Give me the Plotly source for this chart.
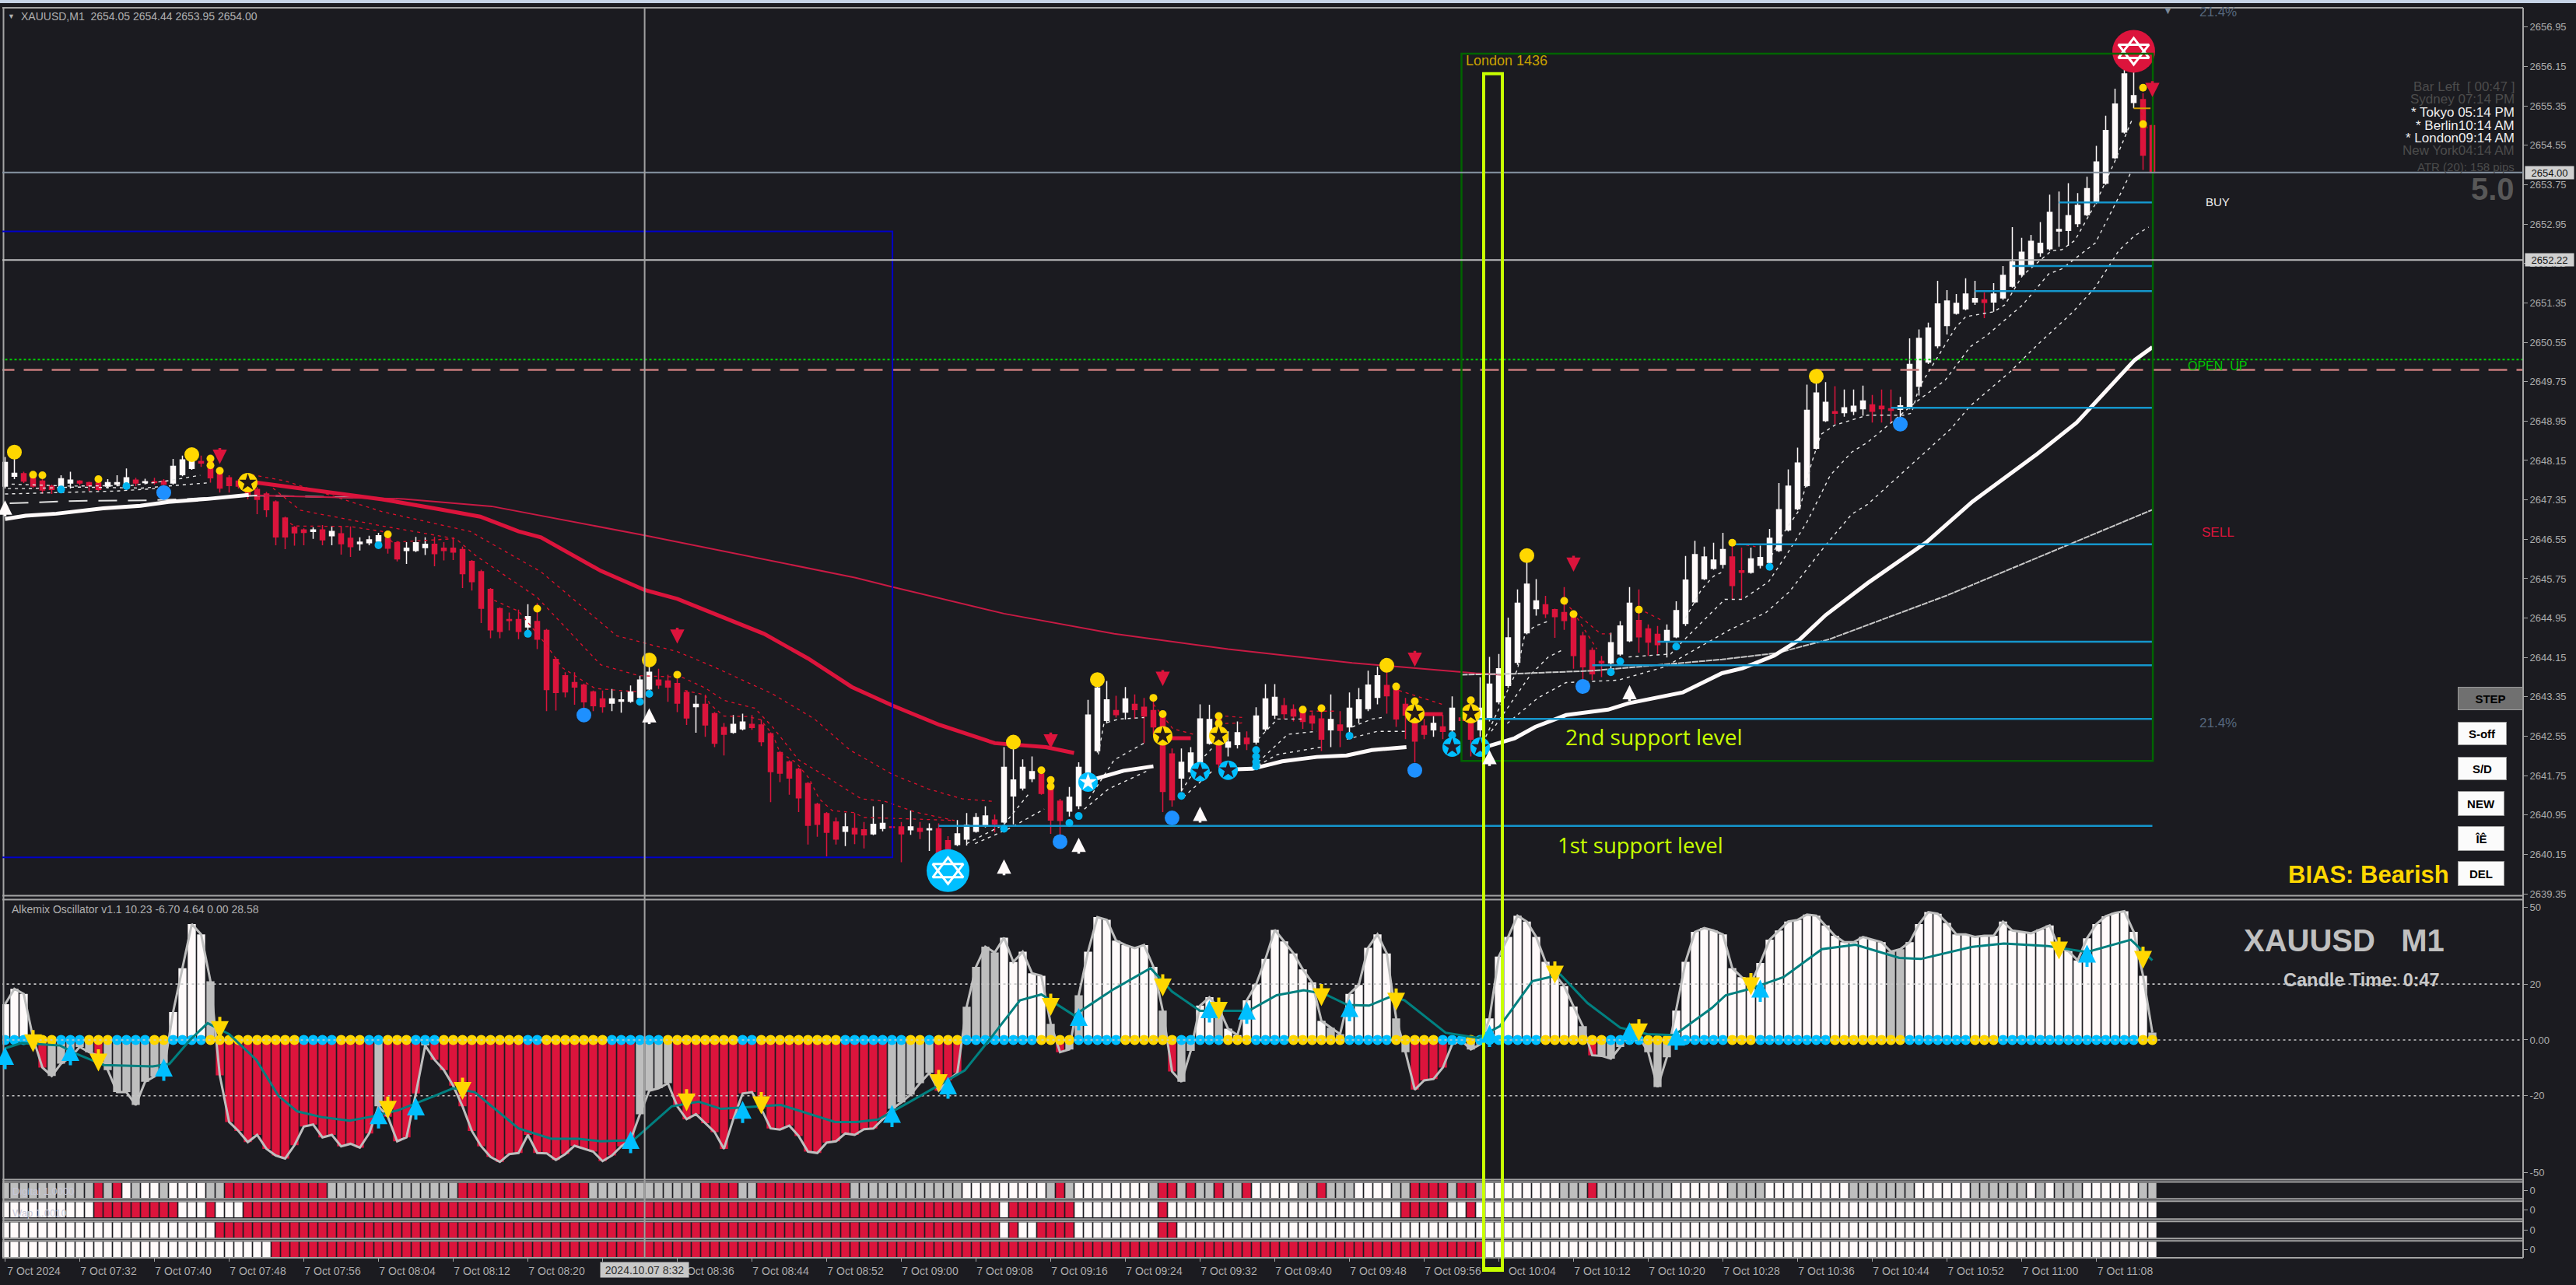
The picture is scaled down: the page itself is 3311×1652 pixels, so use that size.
import plotly.graph_objects as go

W, H = 3311, 1652
BG = "#1b1b20"
RED = "#dc143c"
WHITE = "#fffafa"
GREY = "#bebebe"
GOLD = "#ffd700"
CYAN = "#00bfff"
DODGER = "#1e90ff"
LIME = "#c8ff00"
LEVEL = "#1596cc"
TEAL = "#008080"
FONT = "Liberation Sans"

# ---------- price candles, one value per minute (7 Oct 07:24 .. 11:14) ----------
opens = [
 2647.63,2647.83,2647.88,2647.85,2647.73,2647.63,2647.55,2647.69,2647.73,2647.70,
 2647.69,2647.63,2647.67,2647.63,2647.75,2647.70,2647.72,2647.73,2647.69,2647.86,
 2647.99,2648.13,2648.18,2647.97,2647.80,2647.73,2647.70,2647.56,2647.47,2647.31,
 2646.98,2646.79,2646.74,2646.71,2646.74,2646.62,2646.66,2646.57,2646.46,2646.48,
 2646.51,2646.57,2646.48,2646.32,2646.32,2646.38,2646.45,2646.37,2646.37,2646.34,
 2646.10,2645.89,2645.53,2645.14,2644.92,2644.92,2644.77,2644.88,2644.70,2644.11,
 2643.78,2643.64,2643.59,2643.45,2643.31,2643.22,2643.26,2643.26,2643.34,2643.51,
 2643.69,2643.67,2643.62,2643.44,2643.15,2643.20,2643.01,2642.73,2642.63,2642.70,
 2642.79,2642.78,2642.60,2642.22,2642.03,2641.88,2641.59,2641.17,2640.98,2640.81,
 2640.62,2640.68,2640.65,2640.57,2640.68,2640.71,2640.71,2640.65,2640.68,2640.65,
 2640.67,2640.43,2640.35,2640.46,2640.62,2640.74,2640.85,2640.81,2641.34,2641.50,
 2641.69,2641.78,2641.52,2641.23,2641.03,2641.14,2641.78,2642.26,2642.87,2643.07,
 2643.04,2643.20,2643.14,2643.07,2642.93,2642.19,2641.70,2641.83,2642.02,2642.41,
 2642.93,2642.33,2642.38,2642.51,2642.43,2642.70,2642.98,2643.17,2643.09,2643.04,
 2642.96,2642.90,2642.68,2642.78,2642.74,2642.92,2643.11,2643.34,2643.58,2643.48,
 2643.20,2643.17,2642.76,2642.68,2642.74,2642.68,2642.92,2642.85,2642.68,2642.90,
 2643.25,2643.58,2644.05,2644.65,2645.14,2645.22,2645.12,2645.06,2644.98,2644.59,
 2644.29,2644.07,2644.04,2644.22,2644.49,2644.90,2644.73,2644.62,2644.49,2644.57,
 2644.84,2645.28,2645.75,2645.96,2646.04,2646.19,2645.91,2645.88,2646.02,2646.08,
 2646.32,2646.74,2647.17,2647.64,2648.40,2648.96,2649.14,2649.12,2649.15,2649.20,
 2649.28,2649.25,2649.20,2649.19,2649.22,2649.66,2650.15,2650.48,2650.89,2651.14,
 2651.23,2651.37,2651.41,2651.37,2651.45,2651.69,2651.93,2652.13,2652.37,2652.45,
 2652.81,2652.82,2652.96,2653.14,2653.39,2653.78,2654.30,2654.82,2655.42,2655.48,
 2654.95]
highs = [
 2648.22,2648.18,2647.92,2647.88,2647.77,2647.66,2647.85,2647.92,2647.75,2647.72,
 2647.72,2647.77,2647.85,2647.99,2647.80,2647.78,2647.80,2647.77,2648.18,2648.25,
 2648.27,2648.25,2648.21,2648.02,2647.85,2647.77,2647.77,2647.61,2647.51,2647.34,
 2647.01,2646.82,2646.77,2646.79,2646.84,2646.82,2646.82,2646.81,2646.59,2646.62,
 2646.68,2646.65,2646.51,2646.49,2646.60,2646.59,2646.60,2646.49,2646.59,2646.40,
 2646.13,2645.93,2645.56,2645.17,2645.06,2645.12,2645.23,2645.25,2644.73,2644.15,
 2643.85,2643.85,2643.62,2643.48,2643.48,2643.51,2643.45,2643.58,2643.78,2643.97,
 2643.92,2643.80,2643.72,2643.47,2643.38,2643.38,2643.04,2642.82,2642.98,2643.01,
 2642.98,2642.89,2642.63,2642.25,2642.06,2641.91,2641.62,2641.20,2641.01,2640.90,
 2640.99,2640.99,2640.81,2641.13,2641.17,2640.73,2640.81,2641.04,2640.81,2640.78,
 2640.78,2640.52,2640.85,2640.99,2640.99,2641.13,2640.96,2642.33,2642.38,2642.08,
 2642.14,2641.86,2641.66,2641.28,2641.52,2642.02,2643.29,2643.64,2643.67,2643.37,
 2643.55,2643.40,2643.33,2643.33,2643.00,2642.30,2642.30,2642.33,2643.20,2643.19,
 2643.01,2642.65,2642.85,2642.65,2643.14,2643.61,2643.61,2643.33,2643.20,2643.11,
 2643.04,2643.09,2643.40,2643.06,2643.44,2643.53,2643.88,2643.96,2643.92,2643.56,
 2643.33,2643.26,2642.90,2642.96,2642.98,2643.36,2642.93,2643.09,2643.75,2644.16,
 2644.22,2644.96,2645.53,2646.08,2645.74,2645.40,2645.14,2645.58,2645.06,2644.67,
 2644.35,2644.18,2644.65,2644.89,2645.58,2645.53,2644.82,2644.79,2644.82,2645.29,
 2646.21,2646.52,2646.40,2646.48,2646.68,2646.48,2646.38,2646.38,2646.42,2646.76,
 2647.69,2647.97,2648.41,2649.69,2649.78,2649.74,2649.66,2649.59,2649.59,2649.67,
 2649.48,2649.59,2649.59,2649.44,2650.63,2650.81,2650.95,2651.80,2651.61,2651.53,
 2651.85,2651.80,2651.56,2651.75,2652.10,2652.89,2652.67,2652.73,2652.99,2653.55,
 2653.61,2653.78,2653.58,2653.91,2654.54,2655.15,2655.70,2656.08,2656.40,2655.61,
 2654.98]
lows = [
 2647.58,2647.77,2647.69,2647.59,2647.48,2647.47,2647.53,2647.58,2647.64,2647.53,
 2647.53,2647.58,2647.63,2647.58,2647.63,2647.67,2647.66,2647.63,2647.66,2647.83,
 2647.96,2648.02,2647.70,2647.50,2647.50,2647.58,2647.36,2647.06,2647.00,2646.43,
 2646.35,2646.42,2646.43,2646.56,2646.43,2646.43,2646.24,2646.19,2646.32,2646.43,
 2646.43,2646.26,2646.10,2646.05,2646.29,2646.23,2646.00,2646.12,2646.13,2645.56,
 2645.51,2644.85,2644.54,2644.54,2644.70,2644.52,2644.57,2644.32,2643.06,2643.07,
 2643.34,2643.19,2643.07,2643.06,2643.03,2643.06,2643.03,2643.23,2643.19,2643.48,
 2643.51,2643.25,2643.04,2642.78,2642.62,2642.54,2642.33,2642.16,2642.60,2642.67,
 2642.68,2642.35,2641.21,2641.62,2641.36,2641.01,2640.35,2640.51,2640.11,2640.35,
 2640.32,2640.36,2640.27,2640.54,2640.62,2640.68,2639.99,2640.55,2640.46,2640.22,
 2640.18,2640.18,2640.32,2640.33,2640.59,2640.70,2640.60,2640.78,2640.76,2641.45,
 2641.62,2641.36,2640.57,2640.54,2640.92,2641.07,2641.75,2642.22,2642.81,2642.93,
 2642.89,2642.90,2642.41,2642.57,2641.01,2641.12,2641.43,2641.80,2641.99,2642.38,
 2641.91,2642.14,2642.30,2642.27,2642.38,2642.65,2642.90,2642.90,2642.85,2642.70,
 2642.67,2642.25,2642.33,2642.33,2642.62,2642.81,2643.06,2643.20,2643.01,2642.74,
 2642.49,2642.02,2642.49,2642.54,2642.49,2642.51,2642.85,2642.14,2642.54,2642.85,
 2643.20,2643.53,2644.00,2644.62,2645.00,2644.95,2644.55,2644.71,2643.92,2643.69,
 2643.69,2643.75,2643.91,2644.18,2644.46,2644.25,2644.18,2644.22,2644.15,2644.54,
 2644.79,2645.25,2645.72,2645.93,2645.96,2645.34,2645.33,2645.85,2645.96,2646.05,
 2646.29,2646.71,2647.14,2647.61,2648.37,2648.93,2648.89,2649.04,2649.07,2649.06,
 2648.92,2648.92,2648.92,2648.79,2649.19,2649.47,2650.11,2650.43,2650.71,2651.11,
 2651.20,2651.31,2651.04,2651.17,2651.41,2651.66,2651.89,2652.10,2652.29,2652.41,
 2652.49,2652.51,2652.89,2653.11,2653.36,2653.75,2654.27,2654.79,2655.30,2654.05,
 2654.00]
closes = [
 2648.11,2647.89,2647.73,2647.63,2647.55,2647.56,2647.78,2647.75,2647.69,2647.64,
 2647.56,2647.70,2647.70,2647.80,2647.69,2647.72,2647.70,2647.67,2648.03,2648.16,
 2648.21,2648.10,2647.80,2647.59,2647.64,2647.63,2647.45,2647.36,2647.15,2646.60,
 2646.60,2646.68,2646.69,2646.74,2646.54,2646.71,2646.46,2646.40,2646.49,2646.54,
 2646.62,2646.37,2646.15,2646.37,2646.48,2646.45,2646.26,2646.32,2646.29,2645.85,
 2645.69,2645.15,2644.71,2644.68,2644.90,2644.68,2644.98,2644.52,2643.50,2643.44,
 2643.45,2643.55,2643.25,2643.17,2643.15,2643.31,2643.29,2643.45,2643.69,2643.85,
 2643.59,2643.55,2643.22,2642.92,2643.20,2642.78,2642.41,2642.59,2642.79,2642.84,
 2642.73,2642.44,2641.83,2641.80,2641.70,2641.30,2640.74,2640.76,2640.60,2640.46,
 2640.71,2640.57,2640.55,2640.76,2640.78,2640.70,2640.57,2640.71,2640.62,2640.67,
 2640.18,2640.26,2640.57,2640.74,2640.90,2640.93,2640.77,2641.92,2641.66,2641.92,
 2641.83,2641.39,2640.85,2640.84,2641.31,2641.92,2642.98,2643.53,2643.29,2642.99,
 2643.31,2643.09,2642.96,2642.74,2641.43,2641.26,2642.02,2642.21,2642.90,2642.89,
 2641.99,2642.43,2642.62,2642.40,2642.96,2643.31,2643.34,2643.01,2642.96,2642.85,
 2642.82,2642.49,2642.89,2642.67,2643.12,2643.29,2643.59,2643.78,2643.37,2642.90,
 2642.98,2642.45,2642.59,2642.81,2642.65,2643.12,2642.87,2642.49,2643.12,2643.61,
 2643.92,2644.55,2645.25,2645.64,2645.30,2645.04,2644.98,2644.90,2644.19,2643.96,
 2643.82,2644.04,2644.45,2644.79,2645.25,2644.57,2644.46,2644.41,2644.70,2645.10,
 2645.72,2646.24,2646.19,2646.13,2646.34,2645.61,2645.88,2646.15,2646.18,2646.57,
 2647.15,2647.63,2648.10,2649.17,2649.52,2649.33,2649.11,2649.22,2649.25,2649.36,
 2649.15,2649.20,2649.17,2649.26,2650.10,2650.63,2650.84,2651.33,2651.39,2651.34,
 2651.53,2651.44,2651.36,2651.53,2651.91,2652.18,2652.38,2652.60,2652.56,2653.19,
 2652.84,2653.12,2653.33,2653.67,2654.21,2654.85,2655.39,2656.00,2655.56,2654.35,
 2654.00]
bar_index = list(range(len(opens)))

# ---------- moving averages and envelopes (bar index / price) ----------
ma_red_x = [27,34.5,40.4,46.2,50.9,55,57.4,63.8,68.5,72,77.8,81.3,86,90.7,95.1,100.1,106,111.5,114.5,None,124,127,None,152,154]
ma_red_y = [2647.70,2647.50,2647.36,2647.17,2647.01,2646.71,2646.59,2645.91,2645.52,2645.34,2644.89,2644.63,2644.13,2643.55,2643.17,2642.78,2642.41,2642.33,2642.21,None,2642.51,2642.51,None,2643.00,2643.00]
ma_white_x = [0,2.2,5.5,10.5,14.5,17.5,21.7,26.1,None,116.9,119.8,123,None,131.8,133.6,136.8,140.5,143.7,146.4,150.1,None,
              158.9,161.7,163.9,167.2,171.7,173.9,179.7,183.9,186.1,189.5,192.2,195,199.5,205.8,210.7,217.7,221.9,226,228.1,230]
ma_white_y = [2646.96,2647.03,2647.07,2647.18,2647.23,2647.31,2647.37,2647.45,None,2641.69,2641.85,2641.94,None,2641.88,2641.89,2642.04,2642.13,2642.16,2642.27,2642.33,None,
              2642.35,2642.51,2642.74,2642.98,2643.09,2643.22,2643.44,2643.83,2643.93,2644.19,2644.51,2645.01,2645.66,2646.49,2647.31,2648.29,2648.92,2649.77,2650.19,2650.45]
slow_left_x = [0.5,7.8,15.3,18.4,27,40]
slow_left_y = [2647.28,2647.33,2647.34,2647.36,2647.44,2647.39]
slow_red_x = [27,42.7,52.1,68.5,91.1,95.1,107,118.8,131,144.3,157.5,160.3]
slow_red_y = [2647.44,2647.37,2647.22,2646.63,2645.77,2645.58,2645.04,2644.63,2644.32,2644.04,2643.83,2643.80]
slow_white_x = [156,161.7,170,183.9,189.8,195.4,208,221.1,230]
slow_white_y = [2643.80,2643.82,2643.88,2644.11,2644.24,2644.52,2645.41,2646.45,2647.15]

band_red_a_x = [26.4,29.9,40.4,49.8,57.4,65.5,72,75.9,82.2,86.7,90.5,95,98.9,102.5,105.7]
band_red_a_y = [2647.86,2647.74,2647.11,2646.71,2645.89,2644.59,2644.27,2643.96,2643.41,2642.90,2642.27,2641.78,2641.48,2641.28,2641.23]
band_red_b_x = [28.7,31.6,40.4,48.3,50.4,57,63.8,67.9,72.5,75,77,80.3,82.2,85,87.8,91.7,94.2,97.5,101.7]
band_red_b_y = [2647.59,2647.14,2646.82,2646.56,2646.22,2645.37,2644.00,2643.78,2643.75,2643.53,2643.28,2643.12,2642.74,2642.07,2641.75,2641.28,2641.23,2641.01,2640.84]
band_red_c_x = [29.9,31,36.9,40.4,41.5,48,None,52.4,55,58,59.7,63.2,67.9,None,72.8,75,75.5,77,79.5,80.9,82.2,83,84.7,86.1,87.2,88.6,90.9,92,97.2,101.7]
band_red_c_y = [2646.95,2646.82,2646.81,2646.71,2646.49,2646.56,None,2645.31,2645.09,2644.40,2643.94,2643.52,2643.45,None,2643.48,2643.39,2643.20,2642.96,2642.95,2642.89,2642.59,2642.22,2642.02,2641.70,2641.28,2641.04,2641.00,2640.90,2640.87,2640.84]
band_red_d_x = [123,125.1,127.3,None,130.7,132.5,None,130.7,132.5,None,139,142.7,None,149.3,153.9,None,167,170.9,172,None,168.4,170.5,None,175,177.5,None,185,187.5,None,228.8,229.6]
band_red_d_y = [2643.20,2642.70,2642.59,None,2642.96,2642.93,None,2642.81,2642.82,None,2643.06,2643.06,None,2643.48,2643.20,None,2645.26,2644.63,2644.63,None,2644.95,2644.32,None,2645.14,2644.90,None,2646.48,2646.40,None,2655.22,2654.82]

band_white_a_x = [0.7,6.8,13.4,17.5,20.9,None,103,107,109.7,None,117.1,117.7,119.3,122,None,126,128.3,129.4,None,134.2,136.3,139,None,144.3,146.4,147.5,None,
                  158.6,162,162.8,163.9,165.5,None,180,181.7,183,183.9,None,189.2,190.5,192.2,193.5,194.5,196,199.5,203.4,204.2,205,208.9,210,213,214.2,216.1,219.2,220.3,221.7,223.9,225.9,227.8]
band_white_a_y = [2647.67,2647.63,2647.64,2647.74,2647.85,None,2640.37,2640.76,2641.39,None,2642.18,2642.81,2642.90,2642.93,None,2641.44,2642.11,2642.33,None,2642.49,2642.90,2642.90,None,2642.74,2642.90,2642.93,None,
                  2642.54,2643.91,2644.63,2644.79,2644.90,None,2644.95,2645.53,2645.80,2645.88,None,2646.21,2646.68,2647.15,2648.10,2648.68,2648.87,2649.07,2649.07,2649.11,2649.63,2650.84,2651.07,2651.17,2651.31,2651.91,2652.41,2652.43,2652.62,2653.36,2654.19,2655.06]
band_white_b_x = [0.3,2.5,7.5,14.7,22,None,103.9,107.6,111.3,None,116.1,118.8,122,None,126.2,129.4,None,134.2,137.4,140.5,None,143.7,147,150.1,None,
                  159.2,163.4,165.3,167,None,173.9,178.4,179.7,182.2,184.2,186.1,188.9,191.1,193,194.5,195.5,197.8,199.5,204.5,207.8,210.5,212.2,216.1,218.9,220.3,223.9,226.7,227.8]
band_white_b_y = [2647.58,2647.58,2647.61,2647.59,2647.70,None,2640.37,2640.68,2641.07,None,2641.28,2642.07,2642.41,None,2641.31,2641.86,None,2642.02,2642.59,2642.65,None,2642.49,2642.65,2642.65,None,
                  2642.65,2643.80,2644.16,2644.32,None,2644.16,2644.22,2644.48,2644.95,2645.33,2645.33,2645.69,2646.32,2646.90,2647.47,2647.85,2648.32,2648.52,2649.31,2649.78,2650.46,2650.68,2651.31,2651.94,2652.04,2652.57,2653.61,2654.04]
band_white_c_x = [0,6.4,12,16.1,None,115.6,118.2,122.5,None,134.2,136.3,141,None,160.9,164.2,167.2,170,172.8,177.8,181.1,184.7,188.6,191.1,195,197.8,199.5,208.4,210.5,214.7,217.8,221.4,223.9,226.4,228,229.6]
band_white_c_y = [2647.47,2647.50,2647.53,2647.58,None,2641.07,2641.48,2641.86,None,2641.96,2642.18,2642.33,None,2642.81,2643.33,2643.64,2643.66,2643.69,2643.96,2644.32,2644.71,2645.06,2645.48,2646.43,2647.06,2647.26,2648.79,2649.26,2649.94,2650.52,2651.15,2651.67,2652.41,2652.70,2652.89]

# ---------- support levels (first bar, price) ----------
level_start = [220,215,211,202,185,177,170,157,100]
level_price = [2653.39,2652.10,2651.59,2649.22,2646.45,2644.47,2643.99,2642.90,2640.73]
LAST_BAR = 230
open_up_price = 2650.20
open_dash_price = 2649.99
bid_price = 2654.00
cross_price = 2652.22

# ---------- signal markers (bar, price) ----------
big_gold_x = [1,20,69,108,117,148,163,194]
big_gold_y = [2648.32,2648.27,2644.10,2642.43,2643.70,2643.99,2646.22,2649.86]
big_blue_x = [17,62,113,125,151,169,203]
big_blue_y = [2647.50,2642.98,2640.41,2640.89,2641.86,2643.56,2648.89]
small_gold_x = [3,4,10,22,22,23,41,57,72,111,112,112,123,124,130,130,139,141,149,151,157,167,168,175,185,229,229]
small_gold_y = [2647.86,2647.85,2647.77,2648.19,2648.05,2647.94,2646.65,2645.14,2643.80,2641.86,2641.66,2641.53,2643.33,2643.00,2642.96,2642.81,2643.09,2643.12,2643.56,2643.26,2643.28,2645.30,2645.03,2645.12,2646.48,2655.72,2654.98]
small_cyan_x = [6,13,40,56,68,69,107,114,115,126,134,134,134,134,144,155,172,173,179,189]
small_cyan_y = [2647.56,2647.63,2646.43,2644.63,2643.25,2643.41,2640.67,2640.79,2640.93,2641.34,2642.27,2642.14,2642.03,2641.94,2642.56,2642.57,2643.85,2644.07,2644.37,2645.99]
gold_star_x = [26,124,130,151,157]
gold_star_y = [2647.70,2642.56,2642.56,2643.01,2643.01]
cyan_star_x = [116,128,131,155,158]
cyan_star_y = [2641.62,2641.83,2641.86,2642.33,2642.33]
david_blue = (101, 2639.82)
david_red = (228, 2656.46)
sell_arrow_x = [23,72,112,124,151,168,230]
sell_arrow_y = [2648.08,2644.43,2642.30,2643.57,2643.96,2645.89,2655.53]
buy_arrow_x = [0,69,107,115,128,159,174]
buy_arrow_y = [2647.34,2643.12,2640.05,2640.49,2641.12,2642.27,2643.59]

# ---------- oscillator ----------
osc_values = [
 12.8,18.3,16.5,0.7,-9.9,-12.9,-8.5,-6.2,-2.5,-4.4,
 -5.7,-10.8,-18.7,-18.7,-23.3,-15,-13.1,-10.8,10,25.7,
 41.5,37.8,21,-12.7,-29.4,-32.6,-36.6,-34,-39,-41.4,
 -42.5,-37.7,-31,-30.3,-34.9,-34,-38.1,-37.2,-38.6,-33.5,
 -23.8,-27.5,-36.3,-34.9,-19.2,-2,-7.1,-10.8,-16.4,-23.8,
 -32.6,-38.1,-41.9,-43.7,-40.9,-40.5,-34,-40.5,-40.6,-43,
 -40.9,-37.9,-39,-40,-43.4,-41.4,-38.1,-35.8,-26.6,-18.2,
 -17.3,-15.5,-23.8,-28.4,-26.6,-29.8,-33,-39,-28.4,-19.2,
 -18.7,-24.7,-31.7,-32.1,-30.7,-34.4,-40,-40.5,-36.8,-36.3,
 -33.5,-34,-32,-31.7,-28.4,-24.7,-22.4,-19.6,-15.5,-11.8,
 -18.2,-14.5,-11.8,11.9,26.2,33.4,31.3,36.6,27.9,31.6,
 23.9,23,5.8,-4.4,-3.4,16,31.6,44,43,35.6,
 34,32.9,34,26.2,10.5,-11.3,-15,-3.9,12.3,15.3,
 11.4,4,1.7,14.2,19.9,29,39.4,35.3,31,25.3,
 20.6,6.8,4.4,2.1,16.5,19.7,33,37.8,31,7.7,
 -4.4,-17.8,-14.5,-14,-9.9,-1.6,-0.2,-3.4,-1.6,7.7,
 29.9,36.9,44.5,42.4,36.9,28,23.4,19.3,12,4.9,
 -5.5,-5.7,-6.7,-2.5,4,1.2,-4.4,-16.9,-6.2,10.5,
 28,38.7,40.1,39.2,37.8,25.7,22.5,20.2,27.6,35.9,
 39.2,42.4,43,44.9,44.5,41,37.3,35,35,36.9,
 35.9,35,31.6,32.5,35,41.5,45.8,45.2,41.9,37.8,
 37.8,36.9,37.3,37.3,42.4,39.2,38.7,38.2,39.6,41,
 33,31.8,28.5,36.4,41.5,44.3,45.5,46.1,38.7,23,2.6]
signal_x = [0,1.8,4.1,5.9,7.6,10.6,15.8,17.6,19.9,21.7,24,26.9,29.3,31.3,34,36.9,39.2,42.1,45.6,48,50.3,55,58.5,61.4,63.8,67.3,71.4,74.3,76.7,83.1,88.9,91.2,
            93.5,97,102.8,105.7,108.7,111,114.5,118.6,122.7,125,128,133.2,136.2,139.1,141.4,143.8,146.1,148.4,149.9,154.3,157.8,160.1,163.6,166.6,169.5,173,175.9,178.8,182.8,
            184.3,186.9,190.5,194.6,198.2,202.9,205.2,210.6,214.1,218.8,223,227.7,230]
signal_y = [-3,-1.1,-1.6,-2,-4.9,-9,-9.5,-8.6,0.3,6,2.1,-7.1,-20.1,-25.6,-27.7,-28.9,-27.5,-25.2,-20.6,-17.3,-18.7,-31.7,-35.4,-35.4,-36.3,-35.9,-23.8,-22.1,-24.7,-23.3,-29.4,-29.4,
            -28.5,-22,-10.9,1.2,14.2,16.3,8.8,17.9,25.7,17.3,10.4,10.4,16,17.8,16.4,12.5,12.3,15.5,14.2,2.6,0.7,4.9,21.1,23.4,13.2,4.4,2.1,1.7,11.4,
            16,18.3,22.5,32.5,34.1,29.4,29,33.3,34.5,33.6,31.5,35.9,28.5]
osc_up_x = [0,7,17,40,44,67,79,95,101,115,129,133,144,159,174,179,188,223]
osc_up_y = [-2.5,-1.1,-6.7,-23.8,-20.6,-32.6,-21.8,-23.3,-13.1,11.4,14.2,13.7,14.6,5.4,6.3,4.4,21.6,34.1]
osc_down_x = [3,10,23,41,49,73,81,100,112,124,130,141,149,166,175,187,220,229]
osc_down_y = [-4.4,-11.3,0.3,-28.2,-21.5,-25.6,-26.6,-18.7,8.6,15.6,7.2,12.1,10.5,20.2,-0.5,16,28.8,25.5]
osc_levels = [20,0,-20]
osc_tick_vals = [47.5,20,0,-20,-47.5]
osc_tick_text = ["50","20","0.00","-20","-50"]

# state runs: (state, last bar of the run)
osc_color_runs = [("W",2),("G",3),("R",4),("G",9),("R",10),("G",17),("W",21),("G",22),("R",39),("G",40),("R",44),("G",45),("R",67),("G",71),("R",94),("G",99),("R",102),("G",106),("W",111),("G",112),("R",113),("G",115),("W",123),("G",124),("R",125),("G",127),("W",129),("G",130),("W",141),("G",143),("W",148),("G",150),("R",154),("G",158),("W",168),("G",169),("R",170),("G",178),("W",201),("G",203),("W",229),("G",230)]
dot_runs = [("B",2),("Y",5),("B",8),("Y",11),("B",15),("Y",17),("B",21),("Y",31),("B",35),("Y",38),("B",40),("Y",43),("B",46),("Y",55),("B",57),("Y",64),("B",70),("Y",78),("B",80),("Y",89),("B",96),("Y",98),("B",99),("Y",102),("B",110),("Y",114),("B",119),("Y",125),("B",130),("Y",133),("B",137),("Y",143),("B",148),("Y",153),("B",156),("Y",157),("B",164),("Y",171),("B",175),("Y",178),("B",184),("Y",187),("B",195),("Y",203),("B",210),("Y",213),("B",228),("Y",230)]
strip1_runs = [("G",9),("R",10),("G",11),("R",12),("W",13),("G",14),("W",16),("G",17),("W",21),("G",23),("R",34),("G",48),("R",62),("G",74),("R",78),("G",80),("R",90),("G",102),("W",111),("G",112),("R",113),("G",114),("W",122),("G",123),("R",125),("G",126),("R",127),("G",129),("R",130),("G",132),("R",133),("W",138),("G",140),("R",141),("G",144),("W",148),("G",150),("R",154),("G",155),("R",157),("G",158),("W",166),("G",169),("R",170),("G",178),("W",184),("G",188),("W",197),("G",204),("W",210),("G",216),("W",217),("G",218),("W",219),("G",222),("W",228),("G",230)]
strip2_runs = [("W",9),("R",18),("W",21),("R",22),("W",25),("R",106),("W",107),("R",114),("W",123),("R",124),("W",149),("R",154),("W",156),("R",157),("W",230)]
strip3_runs = [("W",22),("R",106),("W",107),("R",108),("W",110),("R",114),("W",123),("R",125),("W",230)]
strip4_runs = [("W",28),("R",158),("W",230)]

# ---------- time axis ----------
time_tick_bars = list(range(0, 225, 8))
time_tick_text = ["7 Oct 2024","7 Oct 07:32","7 Oct 07:40","7 Oct 07:48","7 Oct 07:56","7 Oct 08:04","7 Oct 08:12","7 Oct 08:20","",
                  "&nbsp;&nbsp;&nbsp;Oct 08:36","7 Oct 08:44","7 Oct 08:52","7 Oct 09:00","7 Oct 09:08","7 Oct 09:16","7 Oct 09:24","7 Oct 09:32","7 Oct 09:40",
                  "7 Oct 09:48","7 Oct 09:56","&nbsp;&nbsp;&nbsp;Oct 10:04","7 Oct 10:12","7 Oct 10:20","7 Oct 10:28","7 Oct 10:36","7 Oct 10:44","7 Oct 10:52","7 Oct 11:00","7 Oct 11:08"]
price_ticks = [2656.95,2656.15,2655.35,2654.55,2653.75,2652.95,2652.15,2651.35,2650.55,2649.75,2648.95,2648.15,2647.35,2646.55,2645.75,2644.95,2644.15,2643.35,2642.55,2641.75,2640.95,2640.15,2639.35]


def expand(runs):
    out = []
    for state, last in runs:
        out += [state] * (last + 1 - len(out))
    return out


def px(x):
    return x / W


def py(y):
    return 1 - y / H


PAL = {"W": WHITE, "R": RED, "G": GREY}
DOT = {"B": CYAN, "Y": GOLD}

fig = go.Figure()

# ---- main panel ----
def line(x, y, color, width, dash="solid", yaxis="y"):
    fig.add_trace(go.Scatter(x=x, y=y, mode="lines", yaxis=yaxis, showlegend=False, hoverinfo="skip",
                             line=dict(color=color, width=width, dash=dash), connectgaps=False))


def points(x, y, color, size, symbol="circle", lw=0, lc=None, yaxis="y"):
    fig.add_trace(go.Scatter(x=x, y=y, mode="markers", yaxis=yaxis, showlegend=False, hoverinfo="skip",
                             marker=dict(color=color, size=size, symbol=symbol, line=dict(width=lw, color=lc or color))))


line([-1, 270], [open_dash_price] * 2, "#c87c7c", 2.5, "24px,12px")
line([-1, 270], [open_up_price] * 2, "#00d000", 2, "3px,3px")

fig.add_trace(go.Candlestick(
    x=bar_index, open=opens, high=highs, low=lows, close=closes, showlegend=False, hoverinfo="skip",
    increasing=dict(line=dict(color=WHITE, width=1.5), fillcolor=WHITE),
    decreasing=dict(line=dict(color=RED, width=1.5), fillcolor=RED)))

for bx, by in ((band_red_a_x, band_red_a_y), (band_red_b_x, band_red_b_y), (band_red_c_x, band_red_c_y), (band_red_d_x, band_red_d_y)):
    line(bx, by, "#e0102c", 1.3, "4px,5px")
for bx, by in ((band_white_a_x, band_white_a_y), (band_white_b_x, band_white_b_y), (band_white_c_x, band_white_c_y)):
    line(bx, by, "#e8e8e8", 1.4, "4px,5px")

line(slow_left_x, slow_left_y, "#e0e0e0", 2, "24px,14px")
line(slow_red_x, slow_red_y, "#c81a44", 2)
line(slow_white_x, slow_white_y, "#c8c8c8", 2, "8px,1px")
line(ma_red_x, ma_red_y, RED, 5)
line(ma_white_x, ma_white_y, WHITE, 5)

lvl_x, lvl_y = [], []
for s, p in zip(level_start, level_price):
    lvl_x += [s, LAST_BAR, None]
    lvl_y += [p, p, None]
line(lvl_x, lvl_y, LEVEL, 2.5)
line([228, LAST_BAR - 0.2], [2655.30, 2655.30], "#d4a000", 2)

points(small_cyan_x, small_cyan_y, "#00b4f0", 10)
points(small_gold_x, small_gold_y, GOLD, 10)
points(big_blue_x, big_blue_y, DODGER, 19)
points(big_gold_x, big_gold_y, GOLD, 19)
points(gold_star_x, gold_star_y, GOLD, 25)
points(gold_star_x, gold_star_y, "#241a18", 17, "star")
points(cyan_star_x, cyan_star_y, CYAN, 25)
points(cyan_star_x[:1], cyan_star_y[:1], WHITE, 17, "star")
points(cyan_star_x[1:], cyan_star_y[1:], "#241a28", 17, "star")
points([david_blue[0]], [david_blue[1]], CYAN, 55)
points([david_red[0]], [david_red[1]], RED, 55)
for dx, dy in (david_blue, david_red):
    points([dx], [dy], "white", 34, "triangle-up-open", 3, "white")
    points([dx], [dy], "white", 34, "triangle-down-open", 3, "white")

# ---- oscillator ----
osc_colors = [PAL[c] for c in expand(osc_color_runs)]
fig.add_trace(go.Bar(x=bar_index, y=osc_values, yaxis="y2", marker=dict(color=osc_colors, line=dict(width=0)),
                     width=0.86, showlegend=False, hoverinfo="skip"))
line(bar_index, osc_values, GREY, 3, yaxis="y2")
fig.add_trace(go.Scatter(x=bar_index, y=[0] * len(bar_index), mode="markers", yaxis="y2", showlegend=False, hoverinfo="skip",
                         marker=dict(size=13, color=[DOT[c] for c in expand(dot_runs)])))
for lv in osc_levels:
    line([-1, 270], [lv, lv], "#c8c8c8", 1.6, "3px,4px", yaxis="y2")
line(signal_x, signal_y, TEAL, 3, yaxis="y2")

# ---- four state strips ----
for n, runs in enumerate((strip1_runs, strip2_runs, strip3_runs, strip4_runs)):
    fig.add_trace(go.Bar(x=bar_index, y=[1] * len(bar_index), yaxis=f"y{n + 3}",
                         marker=dict(color=[PAL[c] for c in expand(runs)], line=dict(width=0)),
                         width=0.86, showlegend=False, hoverinfo="skip"))

# ---- annotations ----
ann = []


def text(x, y, s, size=13, color="#b0b0b0", anchor="left", bold=False, family=FONT, **kw):
    ann.append(dict(x=px(x), y=py(y), xref="paper", yref="paper", text=f"<b>{s}</b>" if bold else s, showarrow=False,
                    xanchor=anchor, yanchor="middle", font=dict(size=size, color=color, family=family), **kw))


def button(x0, x1, y0, y1, s, bg="#fbfbfb", color="#000000"):
    ann.append(dict(x=px((x0 + x1) / 2), y=py((y0 + y1) / 2), xref="paper", yref="paper", text=f"<b>{s}</b>", showarrow=False,
                    width=x1 - x0, height=y1 - y0, bgcolor=bg, bordercolor="#9a9a9a", borderwidth=1, borderpad=0,
                    xanchor="center", yanchor="middle", align="center", valign="middle",
                    font=dict(size=15, color=color, family=FONT)))


def arrow(x, y, color, ay, awidth, asize, yref):
    ann.append(dict(x=x, y=y, xref="x", yref=yref, ax=0, ay=ay, axref="pixel", ayref="pixel", text="", showarrow=True,
                    arrowhead=2, arrowwidth=awidth, arrowsize=asize, arrowcolor=color, standoff=0))


for x, y in zip(sell_arrow_x, sell_arrow_y):
    arrow(x, y, RED, -22, 3.5, 1.05, "y")
for x, y in zip(buy_arrow_x, buy_arrow_y):
    arrow(x, y, WHITE, 22, 3.5, 1.05, "y")
for x, y in zip(osc_up_x, osc_up_y):
    arrow(x, y, CYAN, 30, 4, 1.15, "y2")
for x, y in zip(osc_down_x, osc_down_y):
    arrow(x, y, GOLD, -30, 4, 1.15, "y2")

text(8, 21, "▼", 9, "#b0b0b0")
text(25, 21, "XAUUSD,M1  2654.05 2654.44 2653.95 2654.00", 14)
text(13, 1173, "Alkemix Oscillator v1.1 10.23 -6.70 4.64 0.00 28.58", 14)
text(14, 1536, "Digital 1.0000", 13, "#c8c8d8")
text(14, 1564, "Wap 1.0010", 13, "#c8c8d8")
text(1882, 78, "London 1436", 18, "#c8a000")
text(2851, 16, "21.4%", 17, "#56677c", "center")
text(2851, 932, "21.4%", 17, "#56677c", "center")
text(2786, 14, "▼", 13, "#7a8898", "center")
text(2850, 260, "BUY", 15, "#f0f0f0", "center")
text(2850, 472, "OPEN  UP", 16, "#00c800", "center")
text(2851, 687, "SELL", 17, RED, "center")
text(3234, 112, "Bar Left  [ 00:47 ]", 17, "#4c4c4c", "right")
text(3234, 128, "Sydney 07:14 PM", 17, "#4c4c4c", "right")
text(3234, 145, "* Tokyo 05:14 PM", 17, "#f0f0f0", "right")
text(3234, 162, "* Berlin10:14 AM", 17, "#f0f0f0", "right")
text(3234, 178, "* London09:14 AM", 17, "#f0f0f0", "right")
text(3234, 194, "New York04:14 AM", 17, "#4c4c4c", "right")
text(3234, 215, "ATR (20): 158 pips", 15, "#4c4c4c", "right")
text(3234, 244, "5.0", 40, "#585858", "right", bold=True)
text(3150, 1128, "BIAS: Bearish", 31, GOLD, "right", bold=True)
text(2010, 950, "2nd support level", 28, LIME, family="Open Sans")
text(2000, 1090, "1st support level", 27.5, LIME, family="Open Sans")
text(2882, 1213, "XAUUSD   M1", 40, "#c0c0c0", bold=True)
text(2933, 1264, "Candle Time: 0:47", 23.5, "#c8c8c8", bold=True)

button(3160, 3242, 887, 915, "STEP", "#707070")
button(3160, 3221, 932, 960, "S-off")
button(3160, 3221, 977, 1005, "S/D")
button(3160, 3218, 1021, 1051, "NEW")
button(3160, 3218, 1066, 1096, "ÎÊ")
button(3160, 3218, 1111, 1141, "DEL")


def tag(y_val, s):
    ann.append(dict(x=px(3245), y=y_val, xref="paper", yref="y", text=s, showarrow=False, xanchor="left", yanchor="middle",
                    bgcolor="#d0d0d0", font=dict(size=13, color="#101010", family=FONT), width=62, height=16, borderpad=0))


tag(bid_price, "2654.00")
tag(cross_price, "2652.22")
ann.append(dict(x=px(828), y=py(1637), xref="paper", yref="paper", text="2024.10.07 8:32", showarrow=False, xanchor="center", yanchor="middle",
                bgcolor="#c8c8c8", width=111, height=17, font=dict(size=14, color="#303030", family=FONT)))

# ---- frames and reference lines ----
shapes = []


def hline(y, c="#a4a4a4", w=2, x0=3, x1=3243):
    shapes.append(dict(type="line", xref="paper", yref="paper", x0=px(x0), x1=px(x1), y0=py(y), y1=py(y), line=dict(color=c, width=w), layer="above"))


def vline(x, y0, y1, c="#a4a4a4", w=2):
    shapes.append(dict(type="line", xref="paper", yref="paper", x0=px(x), x1=px(x), y0=py(y0), y1=py(y1), line=dict(color=c, width=w), layer="above"))


shapes.append(dict(type="rect", xref="paper", yref="paper", x0=0, x1=1, y0=py(4), y1=1, fillcolor="#c6d3e6", line=dict(width=0), layer="above"))
for y in (10, 1155, 1160, 1521, 1524, 1546, 1549, 1572, 1575, 1597, 1600, 1622):
    hline(y)
vline(4.5, 10, 1622)
vline(3243, 10, 1622)
# blue box, London box, lime marker, cross-hair, bid
shapes.append(dict(type="rect", xref="x", yref="y", x0=-1, x1=95.05, y0=2640.09, y1=2652.80, line=dict(color="#0000c8", width=2), layer="above"))
shapes.append(dict(type="rect", xref="x", yref="y", x0=156.0, x1=230.05, y0=2642.05, y1=2656.41, line=dict(color="#006400", width=2.5), layer="above"))
shapes.append(dict(type="line", xref="x", yref="y", x0=-1, x1=270, y0=bid_price, y1=bid_price, line=dict(color="#8795a3", width=2), layer="above"))
shapes.append(dict(type="line", xref="x", yref="y", x0=-1, x1=270, y0=cross_price, y1=cross_price, line=dict(color="#c0c0c0", width=2), layer="above"))
vline(828.6, 10, 1622, "#a0a0a0", 2)
shapes.append(dict(type="rect", xref="paper", yref="paper", x0=px(1907), x1=px(1931), y0=py(1636), y1=py(95), line=dict(color=LIME, width=4), layer="above"))
hline(1637, LIME, 6, 1905, 1933)

XR = [(3 - 6.5) / 12, (3243 - 6.5) / 12]
axis_font = dict(size=13, color="#acacac", family=FONT)
base_y = dict(showgrid=False, zeroline=False, anchor="x", side="right", showline=False, ticks="outside", ticklen=5,
              tickcolor="#a4a4a4", tickfont=axis_font)


def strip_axis(top, bottom):
    return dict(base_y, domain=[py(bottom), py(top)], range=[0, 1], tickvals=[0.5], ticktext=["0"])


fig.update_layout(
    width=W, height=H, autosize=False, margin=dict(l=0, r=0, t=0, b=0),
    paper_bgcolor=BG, plot_bgcolor=BG, showlegend=False, boxgap=0.5, boxgroupgap=0,
    xaxis=dict(domain=[px(3), px(3243)], range=XR, anchor="y6", showgrid=False, zeroline=False, rangeslider=dict(visible=False),
               tickmode="array", tickvals=time_tick_bars, ticktext=time_tick_text, ticks="outside", ticklen=5, tickcolor="#a4a4a4",
               tickfont=dict(size=14, color="#acacac", family=FONT), ticklabelshift=37, tickangle=0),
    yaxis=dict(base_y, domain=[py(1155), py(10)], range=[2656.95 - 1120 / 63.5, 2656.95 + 25 / 63.5],
               tickmode="array", tickvals=price_ticks, tickformat=".2f"),
    yaxis2=dict(base_y, domain=[py(1521), py(1161)], range=[-50, 50], tickmode="array", tickvals=osc_tick_vals, ticktext=osc_tick_text),
    yaxis3=strip_axis(1525, 1545),
    yaxis4=strip_axis(1550, 1570),
    yaxis5=strip_axis(1576, 1596),
    yaxis6=strip_axis(1601, 1621),
    annotations=ann, shapes=shapes,
)

fig.write_html("out.html", config=dict(displayModeBar=False),
               post_script="document.body.style.margin='0';document.body.style.overflow='hidden';")
